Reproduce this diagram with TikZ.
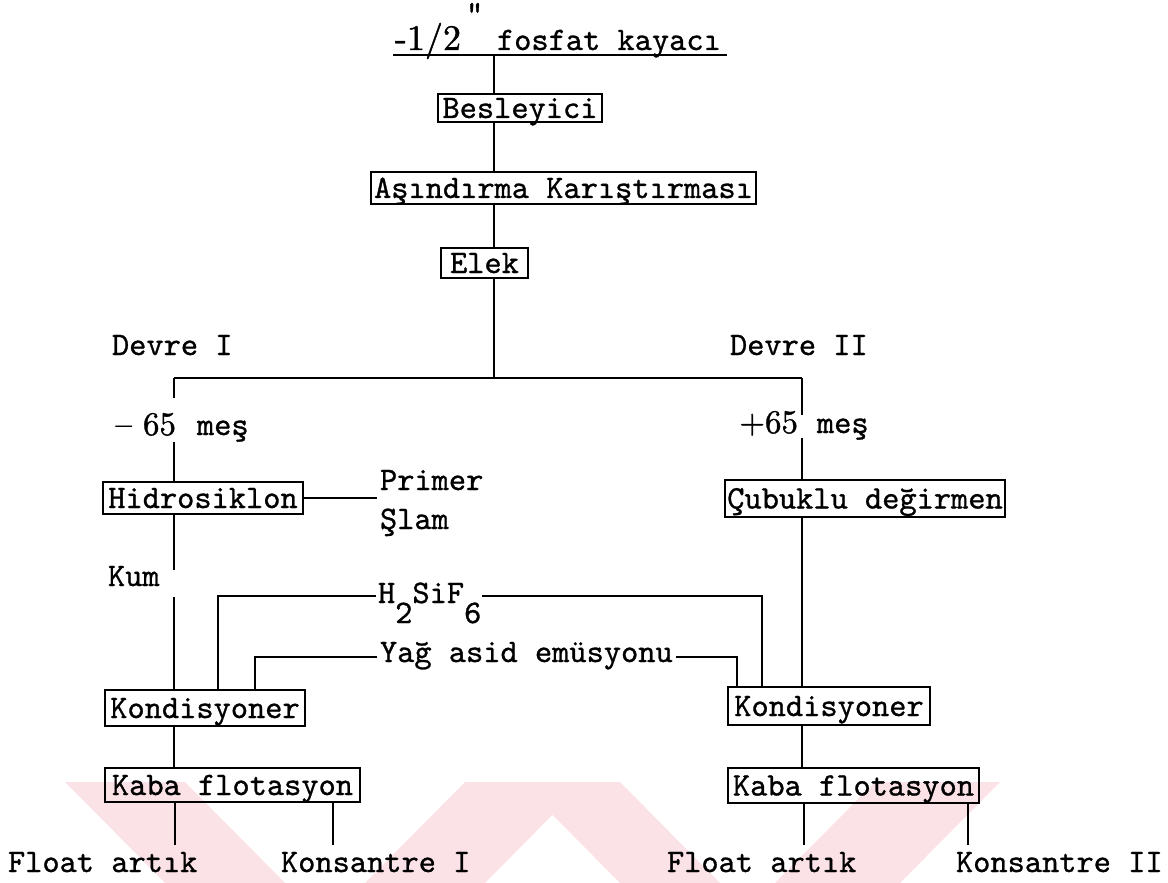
\documentclass[tikz,border=0pt]{standalone}
\usepackage{fontspec}
\usepackage{tikz}
\newfontfamily\lmtw{lmmono10-regular.otf}[FakeBold=0.9]
\newfontfamily\lmrmb{lmroman10-regular.otf}[FakeBold=1.2]
\definecolor{wmpink}{RGB}{251,226,230}
\newcommand\twfont{\fontsize{16.4}{18}\lmtw\bfseries}
\newcommand\rmbigfont{\fontsize{16.5}{18}\lmrmb\bfseries}
\tikzset{
  every node/.style={inner sep=0pt, outer sep=0pt},
  proc/.style={draw, line width=1.1pt, font=\twfont, text height=10pt, text depth=0pt},
  lbl/.style={font=\twfont, anchor=base west},
  big/.style={font=\rmbigfont, anchor=base east},
  conn/.style={line width=1pt},
  wm/.style={fill=wmpink, draw=none}
}
\begin{document}
\begin{tikzpicture}[x=0.5pt,y=-0.5pt]
\useasboundingbox (0,0) rectangle (1168,883);
% watermark
\fill[wm] (65,782) -- (185,782) -- (285,883) -- (165,883) -- cycle;
\fill[wm] (465,782) -- (585,782) -- (485,883) -- (365,883) -- cycle;
\fill[wm] (520,782) -- (620,782) -- (720,883) -- (620,883) -- cycle;
\fill[wm] (875,782) -- (1000,782) -- (900,883) -- (775,883) -- cycle;

% title
\node[anchor=base west, font=\fontsize{18}{18}\lmrmb\bfseries] (tnum) at (395,50) {-1/2};
\node[anchor=north west, font=\twfont] (tq) at (466,3) {"};
\node[lbl] (ttext) at (497,50) {fosfat kayacı};
\coordinate (tl) at (393,55);
\coordinate (tr) at (727,55);
\coordinate (tm) at (494,55);
\draw[line width=1.4pt] (tl) -- (tr);

% boxes
\node[proc, minimum width=82pt, minimum height=14pt] (bes) at (520,108) {Besleyici};
\node[proc, minimum width=192.5pt, minimum height=16pt] (asin) at (563.5,188) {Aşındırma Karıştırması};
\node[proc, minimum width=43.5pt, minimum height=15pt] (elek) at (484.5,263) {Elek};
\node[proc, minimum width=100pt, minimum height=16pt] (hidro) at (203,498) {Hidrosiklon};
\node[proc, minimum width=140pt, minimum height=18.5pt] (cubuk) at (865,498.5) {Çubuklu değirmen};
\node[proc, minimum width=100pt, minimum height=18pt] (kondL) at (205,708) {Kondisyoner};
\node[proc, minimum width=101pt, minimum height=19pt] (kondR) at (829,706) {Kondisyoner};
\node[proc, minimum width=127.5pt, minimum height=17pt] (kabaL) at (232.5,785) {Kaba flotasyon};
\node[proc, minimum width=125.5pt, minimum height=17.5pt] (kabaR) at (853.5,785.5) {Kaba flotasyon};

% main trunk
\draw[conn] (tm) -- (tm |- bes.north);
\draw[conn] (tm |- bes.south) -- (tm |- asin.north);
\draw[conn] (tm |- asin.south) -- (tm |- elek.north);
\coordinate (bm) at (494,378);
\draw[conn] (tm |- elek.south) -- (bm);

% branch
\coordinate (bL) at (174,378);
\coordinate (bR) at (802,378);
\draw[conn] (bL) -- (bR);
\node[lbl] (dev1) at (112,355) {Devre I};
\node[lbl] (dev2) at (730,355) {Devre II};

% left column
\coordinate (l1) at (174,398);
\coordinate (l2) at (174,442);
\draw[conn] (bL) -- (l1);
\draw[conn] (l2) -- (l2 |- hidro.north);
\node[big] (m65a) at (176,435) {– 65};
\node[lbl] (m65b) at (197,435) {meş};

\coordinate (hp) at (377,498);
\draw[conn] (hidro.east) -- (hp);
\node[lbl] (primer) at (380,490) {Primer};
\node[lbl] (slam) at (380,529) {Şlam};

\node[lbl] (kum) at (108,586) {Kum};
\coordinate (k1) at (174,570);
\coordinate (k2) at (174,597);
\draw[conn] (k1 |- hidro.south) -- (k1);
\draw[conn] (k2) -- (k2 |- kondL.north);

% right column
\coordinate (r1) at (802,415);
\coordinate (r2) at (802,438);
\draw[conn] (bR) -- (r1);
\draw[conn] (r2) -- (r2 |- cubuk.north);
\node[big] (p65a) at (798,433) {+65};
\node[lbl] (p65b) at (817,433) {meş};
\draw[conn] (bR |- cubuk.south) -- (bR |- kondR.north);

% reagents
\node[lbl] (h2) at (378,603) {H\raisebox{-10pt}{2}SiF\raisebox{-10pt}{6}};
\coordinate (h2L) at (376,596);
\coordinate (h2R) at (482,596);
\draw[conn] (h2L) -| (218,0 |- kondL.north);
\draw[conn] (h2R) -| (762,0 |- kondR.north);

\node[lbl] (yag) at (380,662) {Yağ asid emüsyonu};
\coordinate (yL) at (377,657);
\coordinate (yR) at (676,657);
\draw[conn] (yL) -| (255,0 |- kondL.north);
\draw[conn] (yR) -| (737,0 |- kondR.north);

% to flotation
\draw[conn] (bL |- kondL.south) -- (bL |- kabaL.north);
\draw[conn] (bR |- kondR.south) -- (bR |- kabaR.north);

% products
\node[lbl] (fa1) at (8,872) {Float artık};
\node[lbl] (kon1) at (281,872) {Konsantre I};
\node[lbl] (fa2) at (667,872) {Float artık};
\node[lbl] (kon2) at (956,872) {Konsantre II};
\draw[conn, shorten >=3.5pt] (175,0 |- kabaL.south) -- (175,0 |- fa1.north);
\draw[conn, shorten >=3.5pt] (333,0 |- kabaL.south) -- (333,0 |- kon1.north);
\draw[conn, shorten >=3.5pt] (804,0 |- kabaR.south) -- (804,0 |- fa2.north);
\draw[conn, shorten >=3.5pt] (968,0 |- kabaR.south) -- (968,0 |- kon2.north);
\end{tikzpicture}
\end{document}
